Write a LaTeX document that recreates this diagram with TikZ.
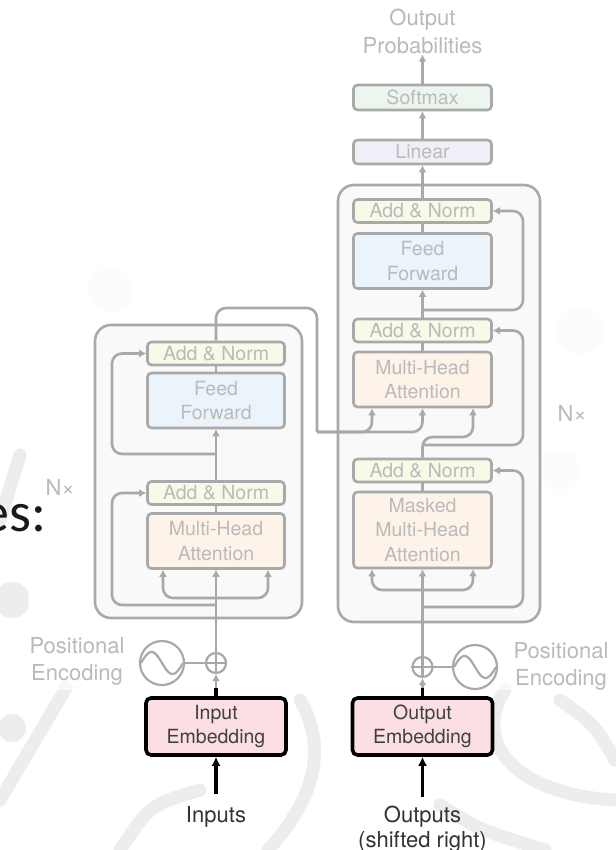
\documentclass[tikz,border=0pt]{standalone}
\usepackage{fontspec}
\setmainfont{TeX Gyre Heros}
\newfontfamily\slidefont{Carlito}
\usetikzlibrary{arrows.meta,positioning}

\definecolor{fadeline}{HTML}{A9A9A9}
\definecolor{fadetext}{HTML}{BABABA}
\definecolor{layerfill}{HTML}{F9F9F9}
\definecolor{normfill}{HTML}{F8F9E7}
\definecolor{ffnfill}{HTML}{EBF4FB}
\definecolor{attnfill}{HTML}{FDF3E9}
\definecolor{linfill}{HTML}{EFF0F7}
\definecolor{smfill}{HTML}{ECF5EE}
\definecolor{embfill}{HTML}{FBDFE3}

\begin{document}
\begin{tikzpicture}[x=1pt,y=-1pt,
    block/.style={draw=fadeline, line width=2.6pt, rounded corners=4pt,
        minimum width=137pt, inner sep=0pt, align=center, text=fadetext,
        font=\fontsize{19.5}{24.5}\selectfont},
    addnorm/.style={block, fill=normfill, minimum height=23pt},
    attn/.style={block, fill=attnfill, minimum height=55pt},
    ffn/.style={block, fill=ffnfill, minimum height=55pt},
    layer/.style={draw=fadeline, line width=2.6pt, rounded corners=16pt,
        fill=layerfill, inner sep=0pt},
    embed/.style={draw=black, line width=3.6pt, rounded corners=5pt,
        fill=embfill, minimum width=140pt, minimum height=57pt, inner sep=0pt,
        align=center, text=black!75, font=\fontsize{19.5}{24.5}\selectfont},
    lbl/.style={align=center, text=fadetext, inner sep=1pt,
        font=\fontsize{22}{27}\selectfont},
    addcirc/.style={circle, draw=fadeline, line width=2.2pt, minimum size=20pt,
        inner sep=0pt},
    pecirc/.style={circle, draw=fadeline, line width=2.2pt, minimum size=44pt,
        inner sep=0pt},
    link/.style={draw=fadeline, line width=2.6pt, rounded corners=10pt},
    flow/.style={link, -{Latex[length=7pt,width=8pt]}},
    feed/.style={draw=black, line width=3.4pt, -{Latex[length=9pt,width=9pt]}},
    wmark/.style={draw=black!7, line width=13pt, line cap=round},
]
\useasboundingbox (0,0) rectangle (615,850);
\fill[white] (0,0) rectangle (615,850);

% faint watermark of the slide
\draw[wmark] (66,688) -- (0,800);
\fill[black!7] (12,728) circle (14);
\draw[wmark] (20,455) -- (0,520);
\fill[black!7] (12,600) circle (18);
\draw[wmark] (300,700) .. controls (335,760) and (300,815) .. (268,850);
\draw[wmark] (505,690) .. controls (470,745) and (520,795) .. (615,800);
\draw[wmark] (560,700) .. controls (595,725) .. (615,760);
\draw[wmark] (440,805) .. controls (480,830) .. (545,850);
\draw[wmark] (120,850) .. controls (150,805) .. (200,790);
\fill[black!3] (110,290) circle (22);
\fill[black!3] (580,330) circle (24);
\fill[black!3] (560,470) circle (20);
\fill[white, opacity=0.65] (28,0) rectangle (615,690);

% encoder
\node[layer, minimum width=207pt, minimum height=293pt] (enclayer) at (198.5,471.5) {};
\node[attn] (encmha) at (216,541) {Multi-Head\\Attention};
\node[addnorm] (encnorma) at (216,493) {Add \& Norm};
\node[ffn] (encffn) at (216,400.5) {Feed\\Forward};
\node[addnorm] (encnormb) at (216,353.5) {Add \& Norm};
\node[lbl] (encrep) at (60,487) {N×};

% decoder
\node[layer, minimum width=202pt, minimum height=437pt] (declayer) at (439,403.5) {};
\node[attn, minimum width=138pt, minimum height=76pt] (decmasked) at (422.5,530) {Masked\\Multi-Head\\Attention};
\node[addnorm, minimum width=138pt] (decnorma) at (422.5,470.5) {Add \& Norm};
\node[attn, minimum width=138pt] (decmha) at (422.5,379.5) {Multi-Head\\Attention};
\node[addnorm, minimum width=138pt] (decnormb) at (422.5,330.5) {Add \& Norm};
\node[ffn, minimum width=138pt] (decffn) at (422.5,261) {Feed\\Forward};
\node[addnorm, minimum width=138pt] (decnormc) at (422.5,211) {Add \& Norm};
\node[block, fill=linfill, minimum width=138pt, minimum height=24pt] (linear) at (422.5,152) {Linear};
\node[block, fill=smfill, minimum width=138pt, minimum height=25pt] (softmax) at (422.5,97.5) {Softmax};
\node[lbl, font=\fontsize{22}{28}\selectfont] (outprob) at (422.5,31) {Output\\Probabilities};
\node[lbl] (decrep) at (572,413) {N×};

% positional encodings
\node[addcirc] (encadd) at (216,663) {};
\node[pecirc] (encpe) at (162,663) {};
\node[lbl] (encpetxt) at (77,661) {Positional\\Encoding};
\node[addcirc] (decadd) at (422.5,667) {};
\node[pecirc] (decpe) at (475,667) {};
\node[lbl] (decpetxt) at (561,666) {Positional\\Encoding};
\foreach \pa in {encadd, decadd}
    \draw[fadeline, line width=2.2pt] (\pa.north) -- (\pa.south) (\pa.west) -- (\pa.east);
\foreach \pe in {encpe, decpe}
    \draw[fadeline, line width=2.2pt, shift={(\pe.center)}]
        plot[domain=-21:21, samples=40, smooth] (\x,{11*sin(8.57*\x)});
\draw[fadeline, line width=2.2pt] (encpe) -- (encadd);
\draw[fadeline, line width=2.2pt] (decadd) -- (decpe);

% embeddings
\node[embed] (inemb) at (216,726.5) {Input\\Embedding};
\node[embed] (outemb) at (422.5,726.5) {Output\\Embedding};
\node[text=black!80, font=\fontsize{22}{25}\selectfont] (inputs) at (216,817) {Inputs};
\node[text=black!80, align=center, font=\fontsize{22}{25}\selectfont] (outputs) at (422.5,829.5) {Outputs\\(shifted right)};
\draw[feed, shorten <=9pt] (inputs.north) -- (inemb.south);
\draw[feed, shorten <=9pt] ([yshift=-3pt]outputs.north) -- (outemb.south);
\draw[flow] (inemb) -- (encadd);
\draw[flow] (outemb) -- (decadd);
\draw[black, line width=3.4pt] (inemb.north) -- ++(0,-8);
\draw[black, line width=3.4pt] (outemb.north) -- ++(0,-8);

% encoder connectors
\coordinate (encsplit) at (216,598);
\coordinate (encresa) at (216,605);
\coordinate (encresb) at (216,454);
\coordinate (encout) at (317,432);
\draw[flow] (encadd) -- (encmha);
\draw[flow] (encsplit) -| ([xshift=-53pt]encmha.south);
\draw[flow] (encsplit) -| ([xshift=52pt]encmha.south);
\draw[flow] (encresa) -- ++(-104,0) |- (encnorma.west);
\draw[link] (encmha) -- (encnorma);
\draw[flow] (encnorma) -- (encffn);
\draw[flow] (encresb) -- ++(-104,0) |- (encnormb.west);
\draw[link] (encffn) -- (encnormb);
\draw[link] (encnormb.north) |- (317,308) -- (encout);
\draw[flow] (encout) -| ([xshift=-50.5pt]decmha.south);
\draw[flow] (encout) -| (decmha.south);

% decoder connectors
\coordinate (decsplit) at (422.5,590);
\coordinate (decresa) at (422.5,607);
\coordinate (decquery) at (422.5,437);
\coordinate (decresb) at (422.5,445);
\coordinate (decresc) at (422.5,310);
\draw[flow] (decadd) -- (decmasked);
\draw[flow] (decsplit) -| ([xshift=-50.5pt]decmasked.south);
\draw[flow] (decsplit) -| ([xshift=50.5pt]decmasked.south);
\draw[flow] (decresa) -- ++(100.5,0) |- (decnorma.east);
\draw[link] (decmasked) -- (decnorma);
\draw[flow] (decnorma.north) -- (decquery) -| ([xshift=50.5pt]decmha.south);
\draw[flow] (decresb) -- ++(100.5,0) |- (decnormb.east);
\draw[link] (decmha) -- (decnormb);
\draw[flow] (decnormb) -- (decffn);
\draw[flow] (decresc) -- ++(100.5,0) |- (decnormc.east);
\draw[link] (decffn) -- (decnormc);
\draw[flow] (decnormc) -- (linear);
\draw[flow] (linear) -- (softmax);
\draw[flow] (softmax) -- (outprob);

% slide text
\node[anchor=base east, text=black!90, font=\slidefont\fontsize{56}{60}\selectfont] (slidetxt) at (50,531) {es:};
\end{tikzpicture}
\end{document}
